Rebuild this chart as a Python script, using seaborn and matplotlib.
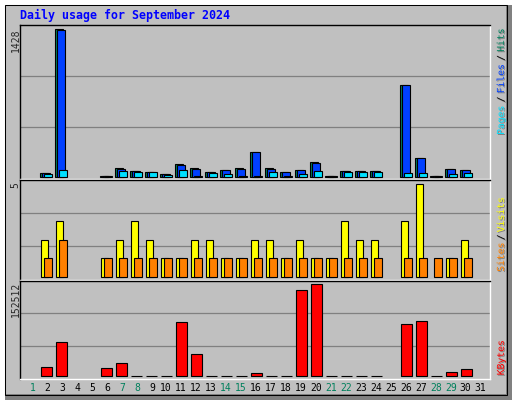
import matplotlib
matplotlib.use('Agg')
import matplotlib.pyplot as plt
import matplotlib.patheffects as pe
import seaborn as sns
import pandas as pd
from matplotlib.patches import Rectangle
from matplotlib.transforms import blended_transform_factory

# DATA
days = list(range(1, 32))
weekend_days = [1, 7, 8, 14, 15, 21, 22, 28, 29]
hits = [0, 36, 1428, 0, 0, 6, 81, 55, 45, 26, 123, 81, 45, 65, 81, 240,
        81, 45, 65, 140, 5, 55, 55, 55, 0, 891, 181, 5, 77, 68, 0]
files = [0, 34, 1420, 0, 0, 5, 78, 52, 43, 24, 118, 79, 43, 62, 79, 236,
         78, 43, 62, 136, 4, 52, 52, 52, 0, 885, 178, 4, 74, 65, 0]
pages = [0, 22, 65, 0, 0, 3, 55, 50, 45, 20, 65, 3, 36, 26, 3, 3,
         45, 3, 26, 55, 3, 45, 45, 45, 0, 36, 36, 3, 26, 36, 0]
visits = [0, 2, 3, 0, 0, 1, 2, 3, 2, 1, 1, 2, 2, 1, 1, 2,
          2, 1, 2, 1, 1, 3, 2, 2, 0, 3, 5, 0, 1, 2, 0]
sites = [0, 1, 2, 0, 0, 1, 1, 1, 1, 1, 1, 1, 1, 1, 1, 1,
         1, 1, 1, 1, 1, 1, 1, 1, 0, 1, 1, 1, 1, 1, 0]
kbytes = [0, 14900, 56400, 0, 0, 13300, 21600, 300, 300, 300, 89500, 36500, 300, 300, 300, 4500,
          300, 300, 142600, 152512, 300, 300, 300, 300, 0, 86200, 91200, 300, 6600, 11600, 0]

# COLORS (webalizer defaults)
HIT, FILE, PAGE = '#00805C', '#0040FF', '#00E0FF'
VISIT, SITE, KBYTE = '#FFFF00', '#FF8000', '#FF0000'
GREY, DKGREY = '#C0C0C0', '#808080'

W, H = 512, 400
X0, X1 = (20 - 16.2) / 15, (490 - 16.2) / 15  # day d sits at pixel 16.2 + 15*d

sns.set_style('white')
plt.rcParams['font.family'] = ['DejaVu Sans Mono']

fig = plt.figure(figsize=(W / 100, H / 100), dpi=100, facecolor=GREY)


def fx(x):
    return x / W


def fy(y):
    return 1 - y / H


# BORDER / BEVEL
fig.add_artist(Rectangle((0, 0), fx(5), 1, transform=fig.transFigure, color='white', lw=0))
fig.add_artist(Rectangle((0, fy(5)), 1, 5 / H, transform=fig.transFigure, color='white', lw=0))
fig.add_artist(Rectangle((fx(506), 0), 6 / W, fy(5), transform=fig.transFigure, color=DKGREY, lw=0))
fig.add_artist(Rectangle((fx(5), 0), 1, 6 / H, transform=fig.transFigure, color=DKGREY, lw=0))
fig.add_artist(Rectangle((fx(4.5), fy(394.5)), 502 / W, 390 / H, transform=fig.transFigure,
                         fill=False, ec='black', lw=0.75))


def panel(top, bottom, base_px, max_px, vmax):
    ax = fig.add_axes([fx(20), fy(bottom), (490 - 20) / W, (bottom - top) / H])
    ax.set_facecolor(GREY)
    per_px = vmax / max_px
    lo = -(bottom - base_px) * per_px
    hi = (base_px - top) * per_px
    for f in (1 / 3, 2 / 3):
        ax.axhline(lo + f * (hi - lo), color=DKGREY, lw=0.9, zorder=0)
    for side, c in (('left', 'black'), ('top', 'black'), ('right', 'white'), ('bottom', 'white')):
        ax.spines[side].set_color(c)
        ax.spines[side].set_linewidth(1.0)
    return ax, lo, hi


def bars(ax, vals, offset, width, color):
    df = pd.DataFrame({'day': days, 'v': vals})
    df = df[df.v > 0]
    df['x'] = df.day + offset
    sns.barplot(data=df, x='x', y='v', native_scale=True, width=width, color=color,
                saturation=1, edgecolor='black', linewidth=0.8, errorbar=None, ax=ax)


def finish(ax, lo, hi):
    ax.set_xlim(X0, X1)
    ax.set_ylim(lo, hi)
    ax.set_xticks([])
    ax.set_yticks([])
    ax.set(xlabel='', ylabel='')


# TOP: hits / files / pages
ax1, lo, hi = panel(25, 178.5, 176.7, 147.4, max(hits))
bars(ax1, hits, -2 / 15, 0.5, HIT)
bars(ax1, files, 0, 0.5, FILE)
bars(ax1, pages, 2 / 15, 0.5, PAGE)
finish(ax1, lo, hi)

# MIDDLE: visits / sites
ax2, lo, hi = panel(180, 279.5, 276.5, 92.2, max(visits))
bars(ax2, visits, -1.8 / 15, 0.5, VISIT)
bars(ax2, sites, 1.8 / 15, 0.5, SITE)
finish(ax2, lo, hi)

# BOTTOM: kbytes
ax3, lo, hi = panel(280.5, 378.5, 375.7, 91.7, max(kbytes))
bars(ax3, kbytes, 0, 11 / 15, KBYTE)
finish(ax3, lo, hi)

# TITLE
fig.text(fx(20), fy(15), 'Daily usage for September 2024', color='#0000FF',
         fontsize=8.4, fontweight='bold', va='center', ha='left')

# LEFT MAX LABELS
for top, s in ((28.3, str(max(hits))), (181.7, str(max(visits))), (282, str(max(kbytes)))):
    fig.text(fx(15.5), fy(top), s, rotation=90, fontsize=7, ha='center', va='top')

# DAY LABELS
trans = blended_transform_factory(ax3.transData, fig.transFigure)
for d in days:
    off = 1.5 / 15 if d < 10 else -0.5 / 15
    c = HIT if d in weekend_days else 'black'
    ax3.text(d + off, fy(388), str(d), transform=trans, fontsize=7, color=c,
             ha='center', va='center', clip_on=False)

# RIGHT LEGEND TEXT (vertical, with a grey drop shadow)
FS = 7
CHAR_PX = 0.602 * FS * 100 / 72
shadow = [pe.withSimplePatchShadow(offset=(0.75, -0.75), shadow_rgbFace=DKGREY, alpha=1)]


def up_words(top, words, gap=3.2):
    for s, color in words:
        fig.text(fx(501), fy(top), s, rotation=90, fontsize=FS, color=color,
                 ha='center', va='top', path_effects=shadow)
        top += len(s) * CHAR_PX + gap


up_words(28.3, [('Hits', HIT), ('/', 'black'), ('Files', FILE), ('/', 'black'), ('Pages', PAGE)])
up_words(197, [('Visits', VISIT), ('/', 'black'), ('Sites', SITE)], gap=2.2)
up_words(340, [('KBytes', KBYTE)])

fig.savefig('out.png', dpi=100, facecolor=GREY)
